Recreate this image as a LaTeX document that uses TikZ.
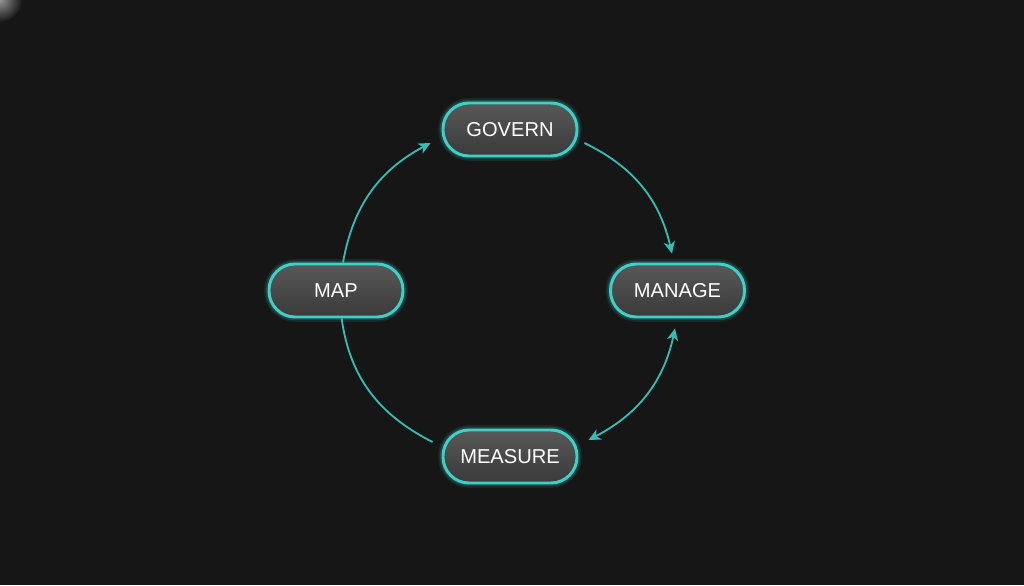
\documentclass[tikz,border=0pt]{standalone}
\usepackage{fontspec}
\setmainfont{Liberation Sans}
\usetikzlibrary{arrows.meta}
\definecolor{bg}{HTML}{161616}
\definecolor{teal}{HTML}{3ECFC6}
\definecolor{lineteal}{HTML}{35BDB4}
\definecolor{boxtop}{HTML}{585858}
\definecolor{boxbot}{HTML}{3A3A3A}
\begin{document}
\begin{tikzpicture}[x=0.025cm,y=0.025cm,
  pill/.style={draw=teal, line width=2.1pt, rounded corners=26*0.025cm,
    minimum width=134*0.025cm, minimum height=53*0.025cm, inner sep=0pt,
    top color=boxtop, bottom color=boxbot, text=white,
    font=\fontsize{14.3}{16}\selectfont,
    preaction={draw=teal, line width=7pt, draw opacity=0.10},
    preaction={draw=teal, line width=4.5pt, draw opacity=0.18}},
  conn/.style={draw=lineteal, line width=1.3pt},
  tip/.style={-{Stealth[length=8.5pt,width=8pt,inset=2.5pt]}},
  bitip/.style={{Stealth[length=8.5pt,width=8pt,inset=2.5pt]}-{Stealth[length=8.5pt,width=8pt,inset=2.5pt]}}
]
\useasboundingbox (0,0) rectangle (1024,585);
\fill[bg] (0,0) rectangle (1024,585);
\begin{scope}
\clip (0,0) rectangle (1024,585);
\shade[inner color=white!55!bg, outer color=bg] (0,585) circle (22);
\end{scope}

\node[pill] (govern)  at (510,455.5) {GOVERN};
\node[pill] (map)     at (336,294.5) {MAP};
\node[pill] (manage)  at (677.5,294.5) {MANAGE};
\node[pill] (measure) at (510,128.5) {MEASURE};

\draw[conn,tip] ([xshift=5]map.north) to[out=80,in=-152] ([shift={(-11,-13.5)}]govern.west);
\draw[conn,tip] ([shift={(6,-13.5)}]govern.east) to[out=-26,in=103] ([shift={(-5.5,9)}]manage.north);
\draw[conn,bitip] ([shift={(-2.5,-10)}]manage.south) to[out=-102,in=27.5] ([shift={(10,16.5)}]measure.east);
\draw[conn] ([xshift=4]map.south) to[out=-82,in=153] ([shift={(-9,14.5)}]measure.west);
\end{tikzpicture}
\end{document}
